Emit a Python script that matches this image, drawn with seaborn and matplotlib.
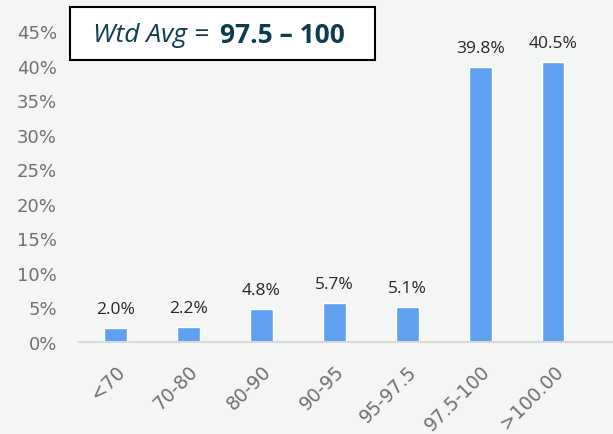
import matplotlib
matplotlib.use("Agg")
import matplotlib.pyplot as plt
import seaborn as sns
import pandas as pd

categories = ["<70", "70-80", "80-90", "90-95", "95-97.5", "97.5-100", ">100.00"]
shares = [2.0, 2.2, 4.8, 5.7, 5.1, 39.8, 40.5]
y_ticks = [0, 5, 10, 15, 20, 25, 30, 35, 40, 45]

BG = "#f4f6f6"
BAR = "#5fa0f0"
BOX_TXT = "#0d3b4f"
TICK = "#707070"

sns.set_theme(style="white")
plt.rcParams["font.family"] = ["Open Sans", "DejaVu Sans"]

df = pd.DataFrame({"bucket": categories, "share": shares})

fig = plt.figure(figsize=(6.13, 4.35), dpi=100, facecolor=BG)
ax = fig.add_axes([0.129, 0.2115, 0.871, 0.715])
ax.set_facecolor(BG)

sns.barplot(data=df, x="bucket", y="share", color=BAR, width=0.31,
            saturation=1, ax=ax)

for i, v in enumerate(shares):
    ax.text(i, v + 1.6, f"{v:.1f}%", ha="center", va="bottom",
            fontsize=12.5, color="#262626")

ax.set_ylim(0, 45)
ax.set_xlim(-0.5, 6.82)
ax.set_yticks(y_ticks)
ax.set_yticklabels([f"{t}%" for t in y_ticks], fontsize=13, color=TICK,
                   family="DejaVu Sans")
ax.set_xticks(range(len(categories)))
ax.set_xticklabels(categories, rotation=45, ha="right", rotation_mode="anchor",
                   fontsize=13.5, color=TICK, family="DejaVu Sans")
ax.tick_params(axis="y", length=0, pad=16)
ax.tick_params(axis="x", length=0, pad=14)
ax.set_xlabel("")
ax.set_ylabel("")
for side in ["top", "right", "left"]:
    ax.spines[side].set_visible(False)
ax.spines["bottom"].set_color("#d9d9d9")
ax.spines["bottom"].set_linewidth(1.5)

# weighted-average call-out box
box = plt.Rectangle((70 / 613, 1 - 61 / 435), 305 / 613, 53 / 435,
                    transform=fig.transFigure, facecolor="white",
                    edgecolor="black", linewidth=1.5)
fig.patches.append(box)
t1 = fig.text(93 / 613, 1 - 36 / 435, "Wtd Avg =", fontsize=19, style="italic",
              color=BOX_TXT, va="center", ha="left")
renderer = fig.canvas.get_renderer()
bb = t1.get_window_extent(renderer=renderer)
fig.text((bb.x1 + 11) / 613, 1 - 36 / 435, "97.5 – 100", fontsize=19,
         fontweight="bold", color=BOX_TXT, va="center", ha="left")

fig.savefig("out.png", dpi=100, facecolor=BG)
